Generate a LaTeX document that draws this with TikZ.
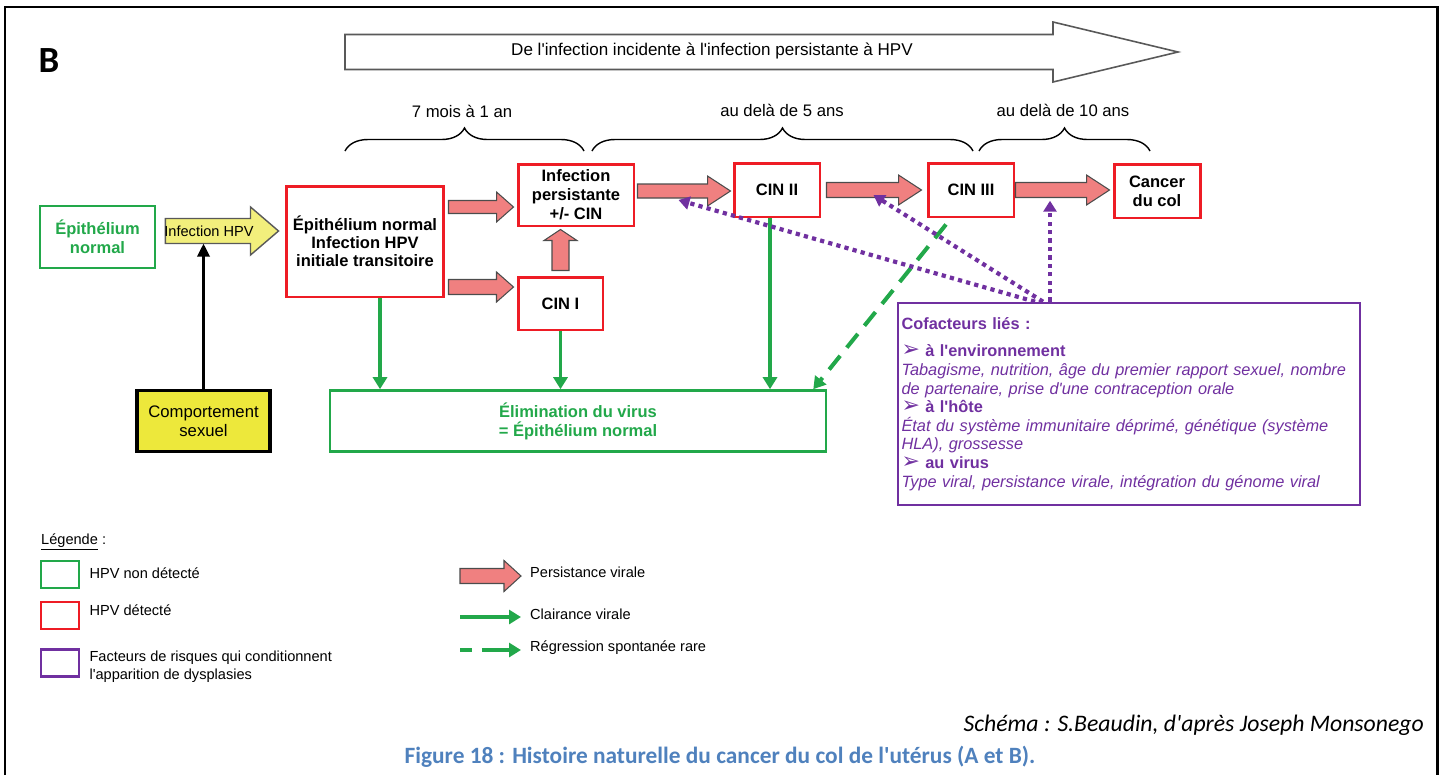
\documentclass[tikz,border=0pt]{standalone}
\usepackage{fontspec}
\setmainfont{Liberation Sans}[Ligatures=TeXOff]
\newfontfamily\calibri{Carlito}
\newfontfamily\dejavu{DejaVu Sans}
\usetikzlibrary{calc,arrows.meta,decorations.pathreplacing}

\definecolor{hpvgreen}{HTML}{22A84A}
\definecolor{hpvred}{HTML}{EE1C25}
\definecolor{persistpink}{HTML}{F08080}
\definecolor{cofpurple}{HTML}{7030A0}
\definecolor{hpvyellow}{HTML}{F2EF7C}
\definecolor{compyellow}{HTML}{EDE83B}
\definecolor{capblue}{HTML}{4F81BD}

% fat arrow: style, start, end, shaft half width, head half width, head length
\newcommand{\blockarrow}[6]{%
  \coordinate (ba-s) at (#2);
  \coordinate (ba-e) at (#3);
  \coordinate (ba-n) at ($(ba-e)!#6!(ba-s)$);
  \draw[#1] ($(ba-s)!#4!90:(ba-e)$) -- ($(ba-n)!#4!90:(ba-e)$) -- ($(ba-n)!#5!90:(ba-e)$) -- (ba-e)
    -- ($(ba-n)!#5!-90:(ba-e)$) -- ($(ba-n)!#4!-90:(ba-e)$) -- ($(ba-s)!#4!-90:(ba-e)$) -- cycle;}
\newcommand{\puce}{{\dejavu\bfseries\fontsize{12.5}{10}\selectfont ➢}}

\begin{document}
\begin{tikzpicture}[x=0.02cm, y=-0.02cm,
			greenbox/.style={draw=hpvgreen, line width=1.5pt, text=hpvgreen, align=center,
				font=\bfseries\fontsize{9.4}{10.8}\selectfont},
			redbox/.style={draw=hpvred, line width=1.7pt, fill=white, align=center,
				font=\bfseries\fontsize{9.4}{10.8}\selectfont},
			persist/.style={draw=black!70, line width=0.6pt, fill=persistpink},
			timeline/.style={draw=black!65, line width=0.9pt, fill=white},
			hpvarrow/.style={draw=black!65, line width=0.8pt, fill=hpvyellow},
			clearance/.style={draw=hpvgreen, line width=2pt, -{Triangle[length=0.24cm,width=0.28cm]}},
			regression/.style={clearance, line width=2.3pt, dash pattern=on 10pt off 6pt},
			cofactor/.style={draw=cofpurple, line width=2.4pt, dash pattern=on 2.4pt off 2.4pt,
				-{Triangle[length=0.22cm,width=0.26cm]}},
			brace/.style={decorate, decoration={brace, amplitude=0.46cm}, line width=0.8pt},
			period/.style={font=\fontsize{9.5}{11}\selectfont},
			legsq/.style={line width=1.5pt, minimum width=0.76cm, minimum height=0.54cm},
			legtext/.style={anchor=west, align=left, font=\fontsize{8.3}{10.2}\selectfont}]
			\useasboundingbox (0,0) rectangle (1443,775);
			\draw[line width=1.7pt] (5,775) -- (5,7) -- (1437,7) -- (1437,775);
			\node[font=\calibri\bfseries\fontsize{21}{24}\selectfont] (lettreB) at (49,61) {B};
			
			% frise du temps
			\blockarrow{timeline}{345,52}{1178,52}{0.35cm}{0.6cm}{2.5cm}
			\node[font=\fontsize{9.7}{11}\selectfont] (frise) at (712,51) {De l'infection incidente à l'infection persistante à HPV};
			\draw[brace] (345,151) -- (584,151);
			\draw[brace] (592,151) -- (973,151);
			\draw[brace] (979,151) -- (1150,151);
			\node[period] (duree1) at (462,111) {7 mois à 1 an};
			\node[period] (duree2) at (782,110) {au delà de 5 ans};
			\node[period] (duree3) at (1063,110) {au delà de 10 ans};
			
			% etapes
			\node[greenbox, minimum width=2.3cm, minimum height=1.24cm] (epi) at (97.5,237) {Épithélium\\normal};
			\node[redbox, minimum width=3.16cm, minimum height=2.22cm, font=\bfseries\fontsize{9.4}{10.3}\selectfont] (initiale) at (365,241.5) {Épithélium normal\\Infection HPV\\initiale transitoire};
			\node[redbox, minimum width=2.32cm, minimum height=1.24cm] (persistante) at (576,195) {Infection\\persistante\\+/- CIN};
			\node[redbox, minimum width=1.7cm, minimum height=1.06cm] (cinI) at (560.5,303.5) {CIN I};
			\node[redbox, minimum width=1.72cm, minimum height=1.08cm] (cinII) at (777,190) {CIN II};
			\node[redbox, minimum width=1.72cm, minimum height=1.08cm] (cinIII) at (971,190) {CIN III};
			\node[redbox, minimum width=1.72cm, minimum height=1.08cm] (cancer) at (1157,191) {Cancer\\du col};
			\node[greenbox, minimum width=9.92cm, minimum height=1.22cm] (elimination) at (578,421) {Élimination du virus\\= Épithélium normal};
			\node[draw, line width=1.8pt, fill=compyellow, minimum width=2.66cm, minimum height=1.22cm, align=center,
				font=\fontsize{9.5}{10.8}\selectfont] (comportement) at (203.5,421) {Comportement\\sexuel};
			\node[draw=cofpurple, line width=1.5pt, text=cofpurple, text width=9.1cm, inner xsep=0.07cm,
				minimum height=4.04cm, align=left, font=\fontsize{9.3}{10.6}\selectfont] (cofacteurs) at (1129,404) {%
				\textbf{Cofacteurs liés :}\\[5pt]
				\puce\ \textbf{à l'environnement}\\
				\textit{Tabagisme, nutrition, âge du premier rapport sexuel, nombre}\\
				\textit{de partenaire, prise d'une contraception orale}\\
				\puce\ \textbf{à l'hôte}\\
				\textit{État du système immunitaire déprimé, génétique (système}\\
				\textit{HLA), grossesse}\\
				\puce\ \textbf{au virus}\\
				\textit{Type viral, persistance virale, intégration du génome viral}};
			
			% infection et persistance
			\blockarrow{hpvarrow}{$(epi.east)+(9,-6)$}{$(initiale.west)+(-6,-10.5)$}{0.25cm}{0.48cm}{0.56cm}
			\node[font=\fontsize{8.3}{9}\selectfont] (infhpv) at (209,231) {Infection HPV};
			\coordinate (hpvbase) at ($(epi.east)+(9,6.5)$);
			\draw[line width=1.8pt, -{Triangle[length=0.26cm,width=0.24cm]}] (comportement.north) -- (comportement.north |- hpvbase);
			\blockarrow{persist}{$(initiale.east)+(3,-34.5)$}{$(persistante.west)+(-3,12)$}{0.13cm}{0.3cm}{0.34cm}
			\blockarrow{persist}{$(initiale.east)+(3,45.5)$}{$(cinI.west)+(-3,-16.5)$}{0.15cm}{0.3cm}{0.34cm}
			\blockarrow{persist}{$(cinI.north)+(0,-5)$}{$(persistante.south -| cinI.north)+(0,2)$}{0.17cm}{0.33cm}{0.22cm}
			\blockarrow{persist}{$(persistante.east)+(2,-4)$}{$(cinII.west)+(-2,1)$}{0.14cm}{0.3cm}{0.46cm}
			\blockarrow{persist}{$(cinII.east)+(5,0)$}{$(cinIII.west)+(-5,0)$}{0.15cm}{0.3cm}{0.46cm}
			\blockarrow{persist}{cinIII.east}{$(cancer.west)+(-3,-1)$}{0.15cm}{0.3cm}{0.46cm}
			
			% clairance
			\draw[clearance] (initiale.south -| 380,0) -- (elimination.north -| 380,0);
			\draw[clearance] (cinI.south) -- (elimination.north -| cinI.south);
			\draw[clearance] (cinII.south -| 770,0) -- (elimination.north -| 770,0);
			\draw[regression] ($(cinIII.south)+(-25,6)$) -- ($(elimination.north east)+(-14,0)$);
			
			% cofacteurs
			\draw[cofactor] ($(cofacteurs.north)+(-94,0)$) -- ($(persistante.east)+(43,5)$);
			\draw[cofactor] ($(cofacteurs.north)+(-86,0)$) -- ($(cinII.east)+(52,5)$);
			\draw[cofactor] ($(cofacteurs.north)+(-79,0)$) -- ($(cofacteurs.north)+(-79,-101)$);
			
			% legende
			\node[legtext] (legende) at (35,542) {\underline{Légende} :};
			\node[legsq, draw=hpvgreen] (legvert) at (60,574.5) {};
			\node[legtext] (txtvert) at ($(legvert.east)+(3,-1.5)$) {HPV non détecté};
			\node[legsq, draw=hpvred] (legrouge) at (60,615.5) {};
			\node[legtext] (txtrouge) at ($(legrouge.east)+(3,-5.5)$) {HPV détecté};
			\node[legsq, draw=cofpurple] (legviolet) at (60,663) {};
			\node[legtext] (txtviolet) at ($(legviolet.east)+(3,4)$) {Facteurs de risques qui conditionnent\\l'apparition de dysplasies};
			\blockarrow{persist}{460,576}{521,576}{0.15cm}{0.31cm}{0.34cm}
			\node[legtext] (txtpersist) at (524,572) {Persistance virale};
			\coordinate (clair-a) at (460,617);
			\coordinate (clair-b) at (521,617);
			\draw[clearance] (clair-a) -- (clair-b);
			\node[legtext] (txtclair) at (524,614) {Clairance virale};
			\coordinate (regr-a) at (460,650);
			\coordinate (regr-b) at (521,650);
			\draw[regression, dash pattern=on 7pt off 5.5pt on 30pt off 0pt] (regr-a) -- (regr-b);
			\node[legtext] (txtregr) at (524,648) {Régression spontanée rare};
			
			\node[anchor=east, font=\calibri\itshape\fontsize{13.5}{15}\selectfont] (schema) at (1430,725) {Schéma : S.Beaudin, d'après Joseph Monsonego};
			\node[font=\calibri\bfseries\fontsize{13.3}{15}\selectfont, text=capblue] (figure) at (720,757) {Figure 18 : Histoire naturelle du cancer du col de l'utérus (A et B).};
		\end{tikzpicture}
\end{document}
